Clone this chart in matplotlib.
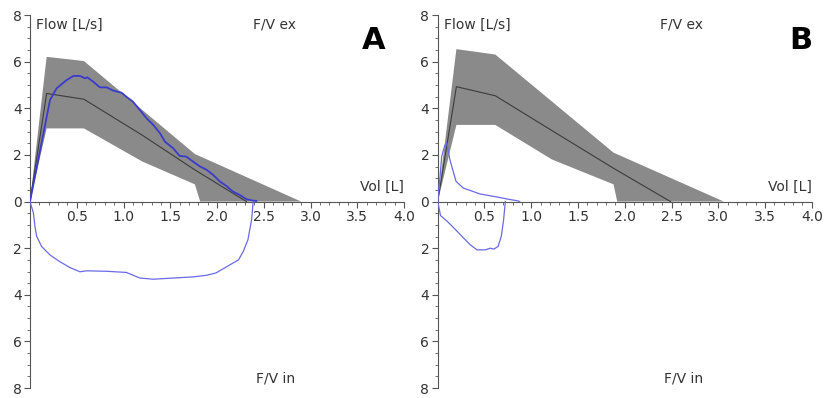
import numpy as np
import matplotlib
matplotlib.use("Agg")
import matplotlib.pyplot as plt
from matplotlib.ticker import MultipleLocator, FixedLocator, FuncFormatter

# ---- panel A: predicted band (upper / lower edge) and mean ----
a_upper_x = [0.0, 0.178, 0.577, 1.763, 2.90]
a_upper_y = [0.0, 6.21, 6.03, 2.04, 0.0]
a_lower_x = [0.0, 0.178, 0.577, 1.20, 1.763, 1.82]
a_lower_y = [0.0, 3.14, 3.14, 1.72, 0.74, 0.0]
a_mean_x = [0.0, 0.178, 0.577, 1.20, 1.763, 2.315]
a_mean_y = [0.0, 4.64, 4.39, 2.85, 1.36, 0.0]

# measured loop A (expiration, then inspiration as negative flow)
a_ex_x = [0.0, 0.214, 0.285, 0.39, 0.463, 0.534, 0.588, 0.613, 0.677, 0.748,
          0.82, 0.89, 0.98, 1.03, 1.10, 1.175, 1.247, 1.318, 1.39, 1.443,
          1.53, 1.60, 1.67, 1.745, 1.82, 1.89, 1.96, 2.03, 2.10, 2.17,
          2.24, 2.315, 2.386, 2.42]
a_ex_y = [0.0, 4.36, 4.86, 5.21, 5.39, 5.39, 5.29, 5.33, 5.14, 4.90,
          4.90, 4.76, 4.67, 4.50, 4.29, 3.93, 3.57, 3.29, 2.93, 2.57,
          2.29, 1.96, 1.93, 1.71, 1.50, 1.36, 1.14, 0.86, 0.67, 0.43,
          0.29, 0.10, 0.04, 0.03]
a_in_x = [2.386, 2.37, 2.33, 2.28, 2.23, 2.10, 1.99, 1.89, 1.745, 1.53,
          1.32, 1.175, 1.03, 0.82, 0.605, 0.534, 0.427, 0.32, 0.214, 0.125,
          0.071, 0.053, 0.036, 0.0]
a_in_y = [0.0, -0.77, -1.64, -2.14, -2.50, -2.80, -3.06, -3.16, -3.23, -3.28,
          -3.33, -3.28, -3.04, -2.99, -2.97, -3.01, -2.83, -2.58, -2.29, -1.93,
          -1.49, -1.06, -0.48, 0.0]

# ---- panel B ----
b_upper_x = [0.0, 0.20, 0.616, 1.88, 3.06]
b_upper_y = [0.0, 6.54, 6.31, 2.10, 0.0]
b_lower_x = [0.0, 0.20, 0.616, 1.22, 1.88, 1.92]
b_lower_y = [0.0, 3.29, 3.29, 1.81, 0.74, 0.0]
b_mean_x = [0.0, 0.20, 0.616, 1.22, 1.88, 2.49]
b_mean_y = [0.0, 4.93, 4.54, 3.05, 1.43, 0.0]

b_ex_x = [0.0, 0.025, 0.043, 0.075, 0.096, 0.13, 0.196, 0.274, 0.45, 0.63,
          0.77, 0.86, 0.876]
b_ex_y = [0.0, 1.08, 1.94, 2.40, 2.53, 1.80, 0.87, 0.58, 0.33, 0.20,
          0.09, 0.03, 0.0]
b_in_x = [0.723, 0.705, 0.68, 0.645, 0.598, 0.563, 0.51, 0.42, 0.35, 0.278,
          0.17, 0.10, 0.03, 0.01, 0.0]
b_in_y = [0.0, -0.77, -1.49, -1.93, -2.04, -2.00, -2.07, -2.07, -1.86, -1.57,
          -1.12, -0.84, -0.60, -0.19, 0.0]

x_major = [0.5, 1.0, 1.5, 2.0, 2.5, 3.0, 3.5, 4.0]
y_major = [-8, -6, -4, -2, 0, 2, 4, 6, 8]

BAND = "#8a8a8a"
MEAN = "#3c3c3c"
TXT = "#333333"

plt.rcParams['font.family'] = ['DejaVu Sans']
fig = plt.figure(figsize=(8.24, 3.98), dpi=100)


def panel(left, up_x, up_y, lo_x, lo_y, m_x, m_y, ex_x, ex_y, in_x, in_y,
          letter, letter_x, ex_col, ex_lw):
    ax = fig.add_axes([left, 0.025, 0.454, 0.937])
    ax.set_xlim(0, 4.0)
    ax.set_ylim(-8, 8)

    # band polygon: along upper edge, back along lower edge
    px = list(up_x) + list(lo_x[::-1])
    py = list(up_y) + list(lo_y[::-1])
    ax.fill(px, py, color=BAND, lw=0, zorder=1)
    ax.plot(m_x, m_y, color=MEAN, lw=0.8, zorder=2)

    ax.plot(ex_x, ex_y, color=ex_col, lw=ex_lw, zorder=3)
    ax.plot(in_x, in_y, color="#6a6ae6", lw=0.9, zorder=3)

    for s in ["top", "right"]:
        ax.spines[s].set_visible(False)
    ax.spines["bottom"].set_position(("data", 0))
    ax.spines["left"].set_color("#555555")
    ax.spines["bottom"].set_color("#555555")

    ax.xaxis.set_major_locator(FixedLocator(x_major))
    ax.xaxis.set_minor_locator(MultipleLocator(0.1))
    ax.xaxis.set_major_formatter(FuncFormatter(lambda v, p: f"{v:.1f}"))
    ax.yaxis.set_major_locator(FixedLocator(y_major))
    ax.yaxis.set_minor_locator(MultipleLocator(0.5))
    ax.yaxis.set_major_formatter(FuncFormatter(lambda v, p: f"{abs(v):.0f}"))
    ax.tick_params(which="major", length=4, width=0.8, color="#555555",
                   labelsize=10, labelcolor=TXT, pad=2)
    ax.tick_params(which="minor", length=2.2, width=0.6, color="#555555")

    ax.text(0.064, 7.58, "Flow [L/s]", fontsize=10, color=TXT, va="center")
    ax.text(2.38, 7.58, "F/V ex", fontsize=10, color=TXT, va="center")
    ax.text(4.0, 0.64, "Vol [L]", fontsize=10, color=TXT, va="center", ha="right")
    ax.text(2.42, -7.58, "F/V in", fontsize=10, color=TXT, va="center")
    ax.text(letter_x, 6.9, letter, fontsize=22, fontweight="bold",
            color="black", ha="center", va="center")
    return ax


panel(30 / 824, a_upper_x, a_upper_y, a_lower_x, a_lower_y, a_mean_x, a_mean_y,
      a_ex_x, a_ex_y, a_in_x, a_in_y, "A", 3.67, "#3a3acc", 1.3)
panel(437.7 / 824, b_upper_x, b_upper_y, b_lower_x, b_lower_y, b_mean_x, b_mean_y,
      b_ex_x, b_ex_y, b_in_x, b_in_y, "B", 3.88, "#6a6ae6", 0.9)

fig.savefig("out.png", dpi=100)
